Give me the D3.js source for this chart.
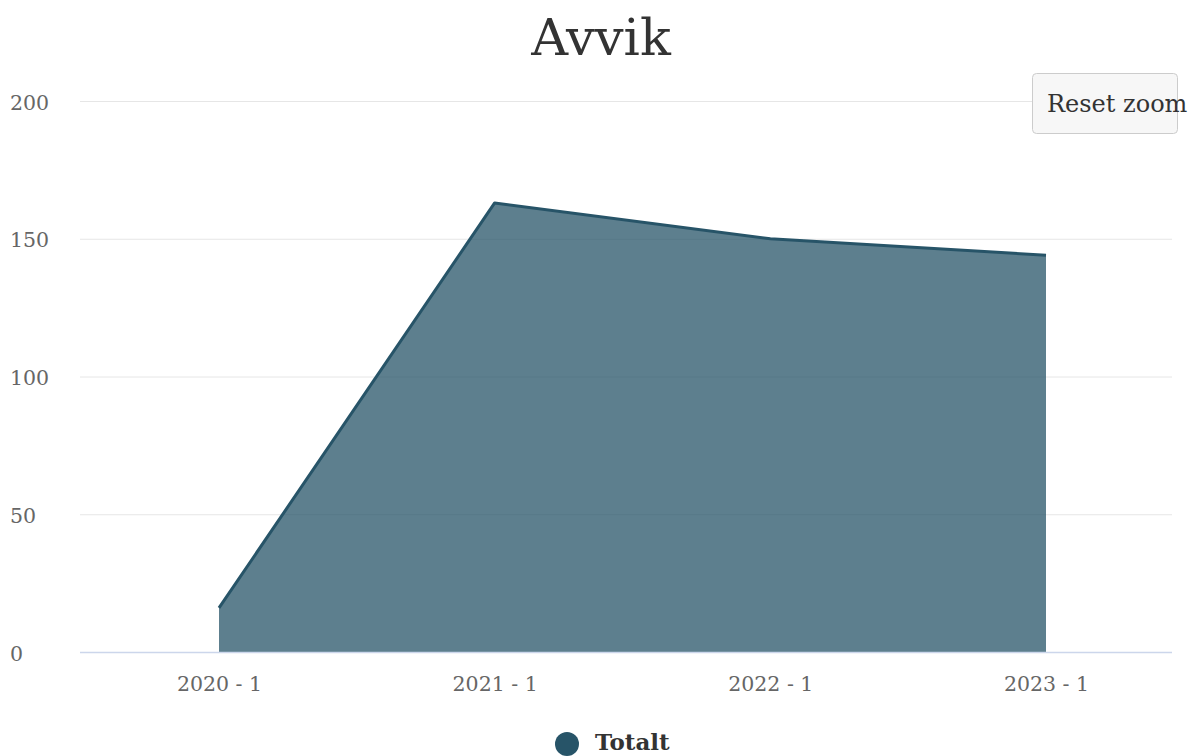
<!DOCTYPE html>
<html>
<head>
<meta charset="utf-8">
<script src="https://cdn.jsdelivr.net/npm/d3@7"></script>
<style>
  html, body { margin: 0; padding: 0; background: #ffffff; }
  svg { display: block; font-family: "DejaVu Serif", serif; }
</style>
</head>
<body>
<svg id="chart" width="1192" height="756"></svg>
<script>
const categories = ["2020 - 1", "2021 - 1", "2022 - 1", "2023 - 1"];
const values = [16, 163, 150, 144];
const yTicks = [0, 50, 100, 150, 200];
const seriesName = "Totalt";
const titleText = "Avvik";

const svg = d3.select("#chart");
const W = 1192, H = 756;
const plot = { left: 80, right: 1172, top: 101, bottom: 652 };
const color = "#275468";

const x = d3.scaleLinear().domain([0, categories.length - 1]).range([219, 1046]);
const y = d3.scaleLinear().domain([0, 200]).range([plot.bottom, plot.top]);

// title
svg.append("text").attr("x", 601).attr("y", 55).attr("text-anchor", "middle")
  .attr("font-size", 51).attr("fill", "#333333").text(titleText);

// grid
const yAxis = d3.axisLeft(y).tickValues(yTicks).tickSize(-(plot.right - plot.left)).tickPadding(0);
const gy = svg.append("g").attr("transform", `translate(${plot.left},0)`).call(yAxis);
gy.select(".domain").remove();
gy.selectAll(".tick line").attr("stroke", "#e6e6e6").attr("stroke-width", 1);
gy.selectAll(".tick text").attr("x", -70).attr("dy", "0.4em").attr("text-anchor", "start")
  .attr("font-size", 20.5).attr("fill", "#666666").attr("font-family", "DejaVu Serif");

// area
const area = d3.area().x((d, i) => x(i)).y0(y(0)).y1(d => y(d));
svg.append("path").datum(values).attr("d", area).attr("fill", color).attr("fill-opacity", 0.75);
const line = d3.line().x((d, i) => x(i)).y(d => y(d));
svg.append("path").datum(values).attr("d", line).attr("fill", "none")
  .attr("stroke", color).attr("stroke-width", 3).attr("stroke-linejoin", "round");

// x axis
const xAxis = d3.axisBottom(x).tickValues(d3.range(categories.length))
  .tickFormat(i => categories[i]).tickSize(0).tickPadding(24);
const gx = svg.append("g").attr("transform", `translate(0,${plot.bottom})`).call(xAxis);
gx.select(".domain").remove();
gx.selectAll(".tick text").attr("font-size", 20.5).attr("fill", "#666666").attr("font-family", "DejaVu Serif");
svg.append("line").attr("x1", plot.left).attr("x2", plot.right)
  .attr("y1", plot.bottom + 0.5).attr("y2", plot.bottom + 0.5)
  .attr("stroke", "#ccd6eb").attr("stroke-width", 1.5);

// legend
svg.append("circle").attr("cx", 567).attr("cy", 744).attr("r", 12).attr("fill", color);
svg.append("text").attr("x", 595).attr("y", 750).attr("font-size", 23).attr("font-weight", "bold")
  .attr("fill", "#333333").text(seriesName);

// reset zoom button
svg.append("rect").attr("x", 1032.5).attr("y", 73.5).attr("width", 145).attr("height", 60).attr("rx", 4)
  .attr("fill", "#f7f7f7").attr("stroke", "#cccccc").attr("stroke-width", 1);
svg.append("text").attr("x", 1047).attr("y", 112).attr("font-size", 24).attr("fill", "#333333").text("Reset zoom");
</script>
</body>
</html>
